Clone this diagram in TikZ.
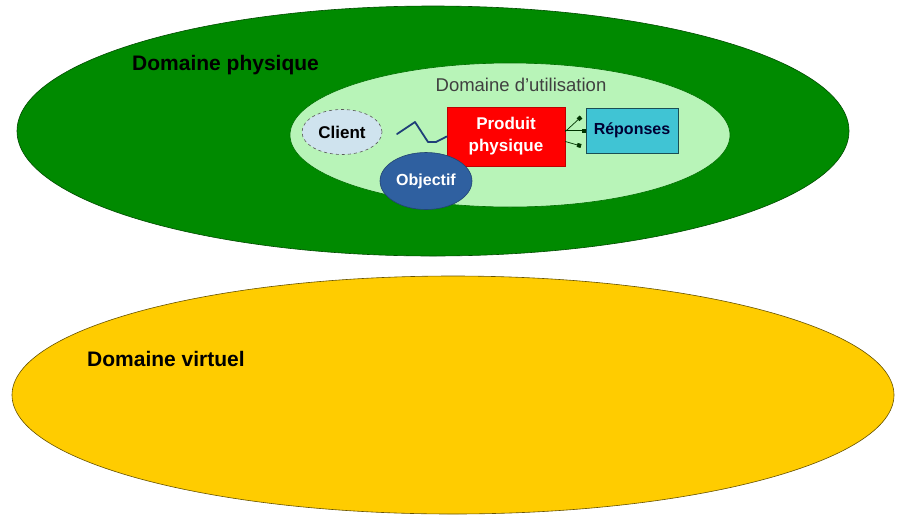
\documentclass[tikz,border=0pt]{standalone}
\usepackage{fontspec}
\setmainfont{Liberation Sans}
\usetikzlibrary{shapes.geometric,arrows.meta}
\definecolor{physgreen}{HTML}{008A00}
\definecolor{usegreen}{HTML}{B8F4B8}
\definecolor{virtyellow}{HTML}{FFCC00}
\definecolor{clientblue}{HTML}{CFE3EE}
\definecolor{objblue}{HTML}{2F60A0}
\definecolor{respcyan}{HTML}{40C4D4}
\definecolor{zigblue}{HTML}{1F3F78}
\tikzset{
  domshape/.style={ellipse, inner sep=0pt, line width=0.6pt},
  biglabel/.style={font=\bfseries\fontsize{21}{23}\selectfont, inner sep=0pt, anchor=west, text=black},
  boxnode/.style={rectangle, inner sep=0pt, line width=0.6pt, align=center},
  smallarrow/.style={line width=0.7pt, draw=black!80!green},
}
\begin{document}
\begin{tikzpicture}[x=1pt,y=-1pt]
\useasboundingbox (0,0) rectangle (897,515);
% domains
\node[domshape, draw=black!70!green, fill=physgreen, minimum width=832pt, minimum height=250pt] (phys) at (433,131) {};
\node[domshape, draw=physgreen!80!black, fill=usegreen, minimum width=440pt, minimum height=144pt] (use) at (510,135) {};
\node[domshape, draw=black!60!virtyellow, fill=virtyellow, minimum width=882pt, minimum height=238pt] (virt) at (453,395) {};
% labels
\node[biglabel] (physlbl) at (132,65) {Domaine physique};
\node[biglabel] (virtlbl) at (87,359) {Domaine virtuel};
\node[font=\fontsize{18.5}{20}\selectfont, text=black!75, inner sep=0pt] (uselbl) at (521,85) {Domaine d'utilisation};
% inner nodes
\node[domshape, draw=black!65, dashed, fill=clientblue, minimum width=80pt, minimum height=45pt,
      font=\bfseries\fontsize{17}{19}\selectfont] (client) at (342,132) {Client};
\node[boxnode, draw=red!75!black, fill=red, text=white, minimum width=118pt, minimum height=59pt,
      font=\bfseries\fontsize{17}{22}\selectfont] (prod) at (506,136.5) {Produit\\physique};
\node[domshape, draw=objblue!70!black, fill=objblue, text=white, minimum width=92pt, minimum height=57pt,
      font=\bfseries\fontsize{16}{18}\selectfont] (obj) at (426,181) {Objectif};
\node[boxnode, draw=black!60!respcyan, fill=respcyan, text=black!80!blue, minimum width=92pt, minimum height=45pt,
      font=\bfseries\fontsize{16}{18}\selectfont] (resp) at (632,130.5) {Réponses};
% zigzag link
\coordinate (z0) at (397,134);
\draw[zigblue, line width=1.8pt, line join=round, line cap=round]
  (z0) -- ++(18,-12) -- ++(13,20) -- ++(8,0) -- (prod.west);
% small outputs
\coordinate (t1) at (581,117);
\coordinate (t3) at (581,146);
\draw[smallarrow, -{Square[length=4pt,width=4pt]}] ([yshift=5pt]prod.east) -- (t1);
\draw[smallarrow, -{Square[length=4pt,width=4pt]}] (prod.east |- resp.west) -- (resp.west);
\draw[smallarrow, -{Square[length=4pt,width=4pt]}] ([yshift=-5pt]prod.east) -- (t3);
\end{tikzpicture}
\end{document}
